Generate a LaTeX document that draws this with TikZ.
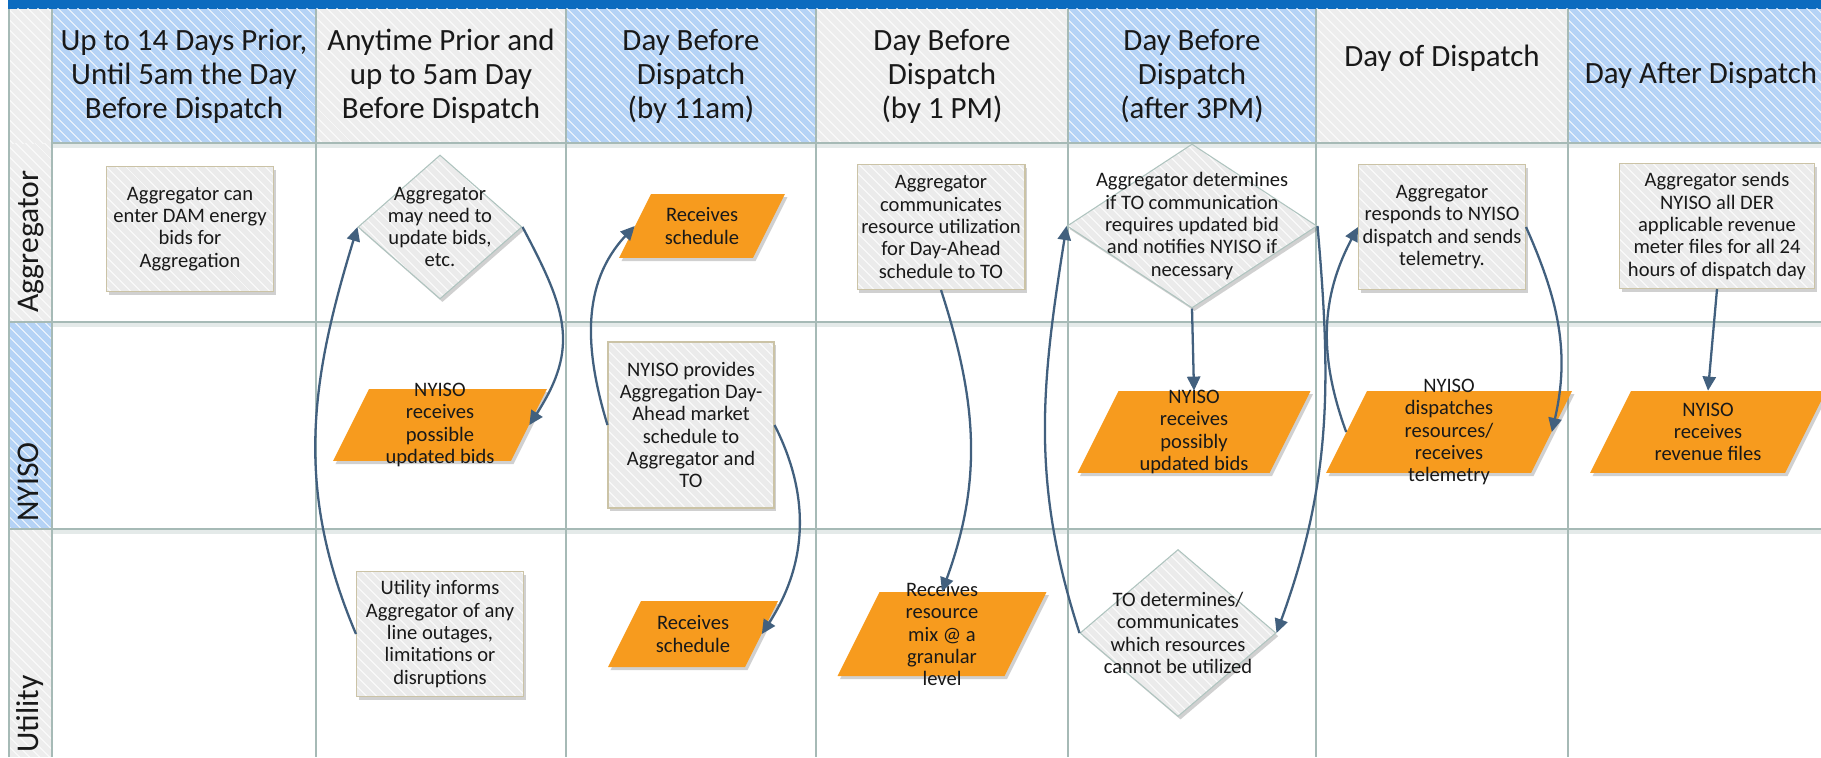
\documentclass[tikz,border=0pt]{standalone}
\usepackage{fontspec}
\setmainfont{Carlito}
\usetikzlibrary{shapes.geometric,arrows.meta,shadows,patterns.meta}
\definecolor{headblue}{HTML}{B5D3F6}
\definecolor{headgray}{HTML}{EDEDED}
\definecolor{gridline}{HTML}{A6BAB6}
\definecolor{stepfill}{HTML}{EBEBEB}
\definecolor{stepedge}{HTML}{CBC3A6}
\definecolor{diaedge}{HTML}{AFC4BF}
\definecolor{datafill}{HTML}{F79B1E}
\definecolor{flowcol}{HTML}{42607E}
\definecolor{topbar}{HTML}{0B6BBF}
\tikzset{
  hatch/.style={pattern={Lines[angle=-45,distance=4pt,line width=.5pt]}, pattern color=white},
  headtext/.style={font=\fontsize{17.6}{19.3}\selectfont, align=center, text=black!90, inner sep=0pt},
  lanetext/.style={font=\fontsize{18}{19}\selectfont, rotate=90, anchor=base west, text=black!90, inner sep=0pt},
  softshadow/.style={drop shadow={shadow xshift=1.4pt, shadow yshift=-1.8pt, opacity=.3, fill=black!60}},
  stepbox/.style={rectangle, softshadow, preaction={fill=stepfill}, preaction={hatch}, draw=stepedge, line width=.6pt,
    align=center, font=\fontsize{11.7}{12.7}\selectfont, text=black!90, inner sep=0pt},
  decision/.style={diamond, softshadow, preaction={fill=stepfill}, preaction={hatch}, draw=diaedge, line width=.6pt, inner sep=0pt},
  datanode/.style={rectangle, xslant=0.5, softshadow, fill=datafill, inner sep=0pt},
  innertext/.style={align=center, font=\fontsize{11.7}{12.7}\selectfont, text=black!90, inner sep=0pt},
  flow/.style={draw=flowcol, line width=1.3pt, -{Triangle[length=8pt,width=7.5pt]}}
}
\begin{document}
\begin{tikzpicture}[x=0.02cm, y=0.02cm]
\useasboundingbox[fill=white] (0,0) rectangle (1821,-757);
\fill[topbar] (8,0) rectangle (1821,-9);
\fill[headblue] (52,-9) rectangle (316,-143);
\fill[headgray] (316,-9) rectangle (566,-143);
\fill[headblue] (566,-9) rectangle (816,-143);
\fill[headgray] (816,-9) rectangle (1068,-143);
\fill[headblue] (1068,-9) rectangle (1316,-143);
\fill[headgray] (1316,-9) rectangle (1568,-143);
\fill[headblue] (1568,-9) rectangle (1821,-143);
\fill[headgray] (9,-9) rectangle (52,-322);
\fill[headblue] (9,-322) rectangle (52,-529);
\fill[headgray] (9,-529) rectangle (52,-757);
\fill[hatch] (9,-9) rectangle (1821,-143);
\fill[hatch] (9,-143) rectangle (52,-757);
\draw[gridline!30, line width=2pt] (52,-146) -- (1821,-146) (52,-325) -- (1821,-325) (52,-532) -- (1821,-532);
\draw[gridline, line width=.9pt] (9,-9) -- (9,-757) (52,-9) -- (52,-757) (316,-9) -- (316,-757) (566,-9) -- (566,-757)
  (816,-9) -- (816,-757) (1068,-9) -- (1068,-757) (1316,-9) -- (1316,-757) (1568,-9) -- (1568,-757);
\draw[gridline, line width=.9pt] (52,-143) -- (1821,-143) (9,-322) -- (1821,-322) (9,-529) -- (1821,-529);
\node[headtext] (h1) at (184,-76) {Up to 14 Days Prior,\\Until 5am the Day\\Before Dispatch};
\node[headtext] (h2) at (441,-76) {Anytime Prior and\\up to 5am Day\\Before Dispatch};
\node[headtext] (h3) at (691,-76) {Day Before\\Dispatch\\(by 11am)};
\node[headtext] (h4) at (942,-76) {Day Before\\Dispatch\\(by 1 PM)};
\node[headtext] (h5) at (1192,-76) {Day Before\\Dispatch\\(after 3PM)};
\node[headtext] (h6) at (1442,-58) {Day of Dispatch};
\node[headtext] (h7) at (1701,-75) {Day After Dispatch};
\node[lanetext] (l1) at (38,-313) {Aggregator};
\node[lanetext] (l2) at (38,-522) {NYISO};
\node[lanetext] (l3) at (38,-753) {Utility};
\node[stepbox, minimum width=3.34cm, minimum height=2.5cm] (b1) at (190,-229) {Aggregator can\\enter DAM energy\\bids for\\Aggregation};
\node[decision, minimum width=3.28cm, minimum height=2.88cm] (d1) at (440,-227) {};
\node[innertext] (d1t) at (d1) {Aggregator\\may need to\\update bids,\\etc.};
\node[datanode, minimum width=2.68cm, minimum height=1.28cm] (p3a) at (702,-226) {};
\node[innertext] (p3at) at (p3a) {Receives\\schedule};
\node[stepbox, minimum width=3.36cm, minimum height=2.5cm] (b4) at (941,-227) {Aggregator\\communicates\\resource utilization\\for Day-Ahead\\schedule to TO};
\node[decision, minimum width=5cm, minimum height=3.28cm] (d5) at (1192,-226) {};
\node[innertext] (d5t) at (d5) {Aggregator determines\\if TO communication\\requires updated bid\\and notifies NYISO if\\necessary};
\node[stepbox, minimum width=3.34cm, minimum height=2.5cm] (b6) at (1442,-227) {Aggregator\\responds to NYISO\\dispatch and sends\\telemetry.};
\node[stepbox, minimum width=3.9cm, minimum height=2.5cm] (b7) at (1717,-226) {Aggregator sends\\NYISO all DER\\applicable revenue\\meter files for all 24\\hours of dispatch day};
\node[datanode, minimum width=3.56cm, minimum height=1.44cm] (p2) at (440,-425) {};
\node[innertext] (p2t) at (p2) {NYISO\\receives\\possible\\updated bids};
\node[stepbox, minimum width=3.32cm, minimum height=3.32cm] (b3n) at (691,-425) {NYISO provides\\Aggregation Day-\\Ahead market\\schedule to\\Aggregator and\\TO};
\node[datanode, minimum width=3.84cm, minimum height=1.64cm] (p5) at (1194,-432) {};
\node[innertext] (p5t) at (p5) {NYISO\\receives\\possibly\\updated bids};
\node[datanode, minimum width=4.1cm, minimum height=1.64cm] (p6) at (1449,-432) {};
\node[innertext] (p6t) at (p6) {NYISO\\dispatches\\resources/\\receives\\telemetry};
\node[datanode, minimum width=3.9cm, minimum height=1.64cm] (p7) at (1708,-432) {};
\node[innertext] (p7t) at (p7) {NYISO\\receives\\revenue files};
\node[stepbox, minimum width=3.34cm, minimum height=2.5cm] (b2u) at (440,-634) {Utility informs\\Aggregator of any\\line outages,\\limitations or\\disruptions};
\node[datanode, minimum width=2.74cm, minimum height=1.32cm] (p3u) at (693,-634) {};
\node[innertext] (p3ut) at (p3u) {Receives\\schedule};
\node[datanode, minimum width=3.34cm, minimum height=1.68cm] (p4u) at (942,-634) {};
\node[innertext] (p4ut) at (p4u) {Receives\\resource\\mix @ a\\granular\\level};
\node[decision, minimum width=3.92cm, minimum height=3.34cm] (d5u) at (1178,-633) {};
\node[innertext] (d5ut) at (d5u) {TO determines/\\communicates\\which resources\\cannot be utilized};
\draw[flow] (b2u.west) to[out=113, in=-107] (d1.west);
\draw[flow] (d1.east) to[out=-62, in=57, looseness=1.2] (p2.east);
\draw[flow] (b3n.west) to[out=107, in=-133] (p3a.west);
\draw[flow] (b3n.east) to[out=-63, in=57] (p3u.east);
\draw[flow] (b4.south) to[out=-72, in=70] (p4u.north -| p4u.center);
\draw[flow] (d5u.west) to[out=108, in=-99] (d5.west);
\draw[flow] (d5.east) to[out=-85, in=70] (d5u.east);
\draw[flow] (p6.west) to[out=110, in=-118] (b6.west);
\draw[flow] (b6.east) to[out=-66, in=77] (p6.east);
\draw[flow] (d5.south) -- (p5.north -| p5.center);
\draw[flow] (b7.south) -- (p7.north -| p7.center);
\end{tikzpicture}
\end{document}
